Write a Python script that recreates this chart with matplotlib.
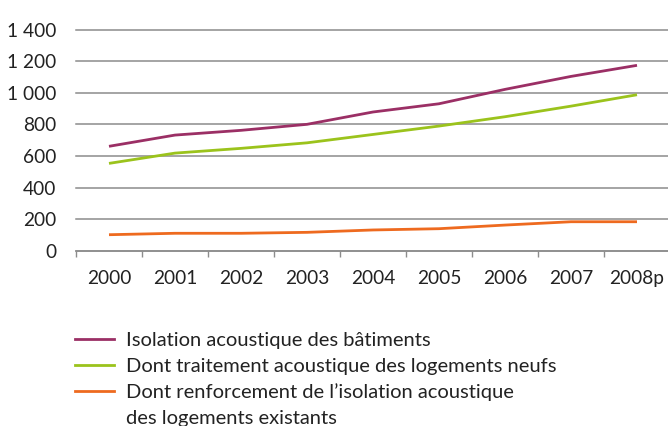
import matplotlib
matplotlib.use("Agg")
import matplotlib.pyplot as plt
from matplotlib.lines import Line2D
from matplotlib.ticker import FuncFormatter, FixedLocator

years = ["2000", "2001", "2002", "2003", "2004", "2005", "2006", "2007", "2008p"]
isolation = [662, 733, 763, 801, 879, 931, 1022, 1104, 1174]
neufs = [554, 619, 649, 684, 737, 790, 849, 916, 988]
existants = [103, 112, 112, 118, 133, 141, 164, 185, 185]
labels = ["Isolation acoustique des bâtiments",
          "Dont traitement acoustique des logements neufs",
          "Dont renforcement de l\u2019isolation acoustique",
          "des logements existants"]
colors = ["#9b2f65", "#9bc31c", "#ee6a1f"]

plt.rcParams['font.family'] = ['Lato', 'DejaVu Sans']
fig = plt.figure(figsize=(6.68, 4.26), dpi=100)
ax = fig.add_axes([76/668, 1-251/426, 594/668, (251-29.6)/426])

x = list(range(len(years)))
for vals, c in zip([isolation, neufs, existants], colors):
    ax.plot(x, vals, color=c, lw=2.0, solid_capstyle='butt')

ax.set_xlim(-0.5, len(years) - 0.5)
ax.set_ylim(0, 1400)
ax.set_yticks(range(0, 1401, 200))
ax.yaxis.set_major_formatter(FuncFormatter(lambda v, p: f"{int(v):,}".replace(",", " ")))
ax.grid(axis='y', color='#8c8c8c', lw=1.1)
ax.set_axisbelow(True)
for g in ax.get_ygridlines():
    g.set_clip_on(False)
for s in ['top', 'right', 'left']:
    ax.spines[s].set_visible(False)
ax.spines['bottom'].set_color('#8c8c8c')
ax.spines['bottom'].set_linewidth(1.1)

ax.set_xticks(x)
ax.set_xticklabels(years)
ax.xaxis.set_minor_locator(FixedLocator([i - 0.5 for i in range(len(years) + 1)]))
ax.tick_params(axis='x', which='major', length=0, pad=14, labelsize=13.8, colors='#222222')
ax.tick_params(axis='x', which='minor', length=4, width=1, color='#8c8c8c')
ax.tick_params(axis='y', length=0, pad=14, labelsize=13.8, colors='#222222')

handles = [Line2D([], [], color=c, lw=2.0) for c in colors] + [Line2D([], [], color='none')]
fig.legend(handles, labels, loc='upper left', bbox_to_anchor=(75/668, 1-332/426),
           frameon=False, fontsize=14.5, handlelength=1.94, handletextpad=0.6,
           labelspacing=0.43, borderpad=0, borderaxespad=0, labelcolor='#222222')

fig.savefig("out.png", dpi=100)
